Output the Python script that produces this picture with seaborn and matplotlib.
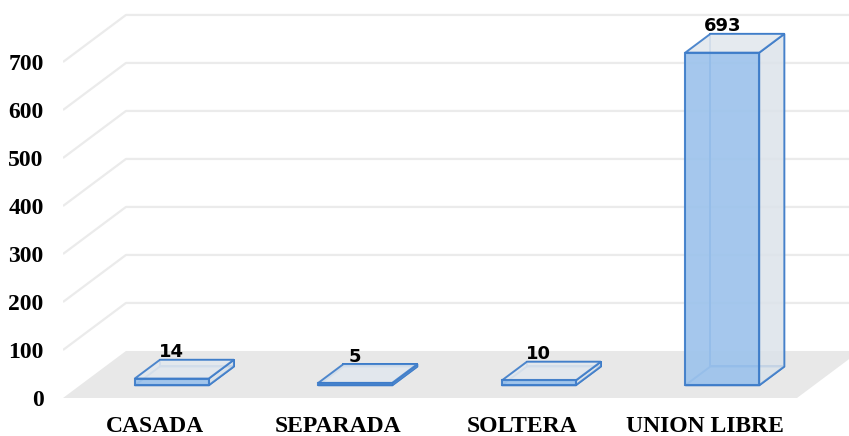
import seaborn as sns
import matplotlib.pyplot as plt
from matplotlib.patches import Polygon

categories = ["CASADA", "SEPARADA", "SOLTERA", "UNION LIBRE"]
values = [14, 5, 10, 693]
yticks = [0, 100, 200, 300, 400, 500, 600, 700]

sns.set_theme(style="white")

edge = "#3D7CC9"
front_fill = "#9DC3EC"
side_fill = "#DCE3EA"
top_fill = "#E3E8EE"
floor_fill = "#E8E8E8"
grid_col = "#EBEBEB"

# oblique depth vector (data units) and bar depth fractions
DX, DY = 0.343, 98.0
F0, F1 = 0.27, 0.67

fig = plt.figure(figsize=(8.49, 4.36), dpi=100)
ax = fig.add_axes([63 / 849, 38 / 436, 786 / 849, 398 / 436])

sns.barplot(x=categories, y=values, ax=ax, width=0.403, color=front_fill,
            edgecolor=edge, linewidth=1.5, saturation=1)
bars = list(ax.patches)

ax.set_xlim(-0.5, -0.5 + 786 / 183.5)
ax.set_ylim(0, 398 / 0.48)

# floor
ax.add_patch(Polygon([(-0.5, 0), (3.5, 0), (3.5 + DX, DY), (-0.5 + DX, DY)],
                     closed=True, facecolor=floor_fill, edgecolor="none", zorder=0.5))
# gridlines: side wall diagonal + back wall horizontal
for v in yticks[1:]:
    ax.plot([-0.5, -0.5 + DX, 10], [v, v + DY, v + DY], color=grid_col, lw=1.6,
            zorder=0.6, solid_capstyle="butt")

for bar, v in zip(bars, values):
    x0 = bar.get_x() + F0 * DX
    w = bar.get_width()
    y0 = F0 * DY
    bar.set_x(x0)
    bar.set_y(y0)
    bar.set_alpha(0.92)
    bar.set_zorder(3)
    ddx, ddy = (F1 - F0) * DX, (F1 - F0) * DY
    x1, y1 = x0 + w, y0 + v
    kw = dict(closed=True, edgecolor=edge, linewidth=1.4)
    # back, left, bottom faces
    ax.add_patch(Polygon([(x0 + ddx, y0 + ddy), (x1 + ddx, y0 + ddy),
                          (x1 + ddx, y1 + ddy), (x0 + ddx, y1 + ddy)],
                         facecolor="none", zorder=1, **kw))
    ax.add_patch(Polygon([(x0, y0), (x0 + ddx, y0 + ddy), (x1 + ddx, y0 + ddy), (x1, y0)],
                         facecolor=side_fill, alpha=0.9, zorder=1, **kw))
    # right and top faces
    ax.add_patch(Polygon([(x1, y0), (x1 + ddx, y0 + ddy), (x1 + ddx, y1 + ddy), (x1, y1)],
                         facecolor=side_fill, alpha=0.85, zorder=2, **kw))
    ax.add_patch(Polygon([(x0, y1), (x1, y1), (x1 + ddx, y1 + ddy), (x0 + ddx, y1 + ddy)],
                         facecolor=top_fill, alpha=0.9, zorder=2, **kw))
    ax.text(x0 + w / 2, y1 + ddy - 3, str(v), ha="center", va="bottom",
            fontsize=13, fontweight="bold", family="DejaVu Sans", color="black", zorder=5)

ax.set_yticks(yticks)
ax.set_yticklabels([str(t) for t in yticks])
ax.tick_params(axis="both", length=0)
ax.tick_params(axis="y", pad=14)
ax.tick_params(axis="x", pad=13)
for lab in ax.get_xticklabels() + ax.get_yticklabels():
    lab.set_fontfamily("Liberation Serif")
    lab.set_fontweight("bold")
    lab.set_fontsize(17)
    lab.set_color("black")
for s in ax.spines.values():
    s.set_visible(False)
ax.set_xlabel("")
ax.set_ylabel("")
ax.patch.set_alpha(0)

fig.savefig("out.png", dpi=100)
